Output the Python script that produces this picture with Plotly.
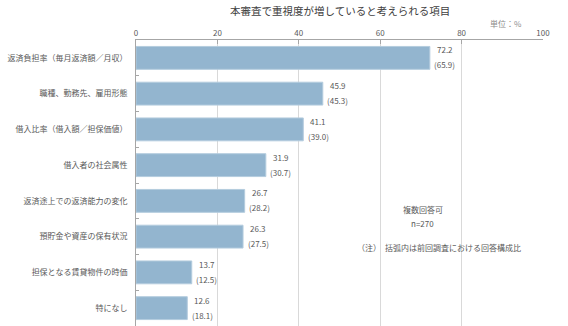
import plotly.graph_objects as go

categories = [
    "返済負担率（毎月返済額／月収）",
    "職種、勤務先、雇用形態",
    "借入比率（借入額／担保価値）",
    "借入者の社会属性",
    "返済途上での返済能力の変化",
    "預貯金や資産の保有状況",
    "担保となる賃貸物件の時価",
    "特になし",
]
current = [72.2, 45.9, 41.1, 31.9, 26.7, 26.3, 13.7, 12.6]
previous = [65.9, 45.3, 39.0, 30.7, 28.2, 27.5, 12.5, 18.1]
x_ticks = [0, 20, 40, 60, 80, 100]

FONT = "Noto Sans CJK JP"
TXT = "#595959"

fig = go.Figure()
fig.add_trace(go.Bar(
    y=categories, x=current, orientation="h",
    marker=dict(color="#93B5CF", line=dict(color="#B4CCDE", width=1)),
    hoverinfo="skip",
))

ann = []
for c, v, p in zip(categories, current, previous):
    ann.append(dict(x=v, y=c, xref="x", yref="y", text=f"{v:.1f}", showarrow=False,
                    xanchor="center", yanchor="middle", xshift=15, yshift=8,
                    font=dict(size=8, color=TXT, family=FONT)))
    ann.append(dict(x=v, y=c, xref="x", yref="y", text=f"({p:.1f})", showarrow=False,
                    xanchor="center", yanchor="middle", xshift=15, yshift=-7,
                    font=dict(size=8, color=TXT, family=FONT)))

ann += [
    dict(x=0.5, y=1, xref="paper", yref="paper", yshift=30, text="本審査で重視度が増していると考えられる項目",
         showarrow=False, xanchor="center", yanchor="middle",
         font=dict(size=10.5, color="#404040", family=FONT)),
    dict(x=91, y=1.0, xref="x", yref="paper", yshift=17, text="単位：%", showarrow=False,
         xanchor="center", yanchor="middle", font=dict(size=8, color="#8c8c8c", family=FONT)),
    dict(x=70.5, y=0.406, xref="x", yref="paper", text="複数回答可", showarrow=False,
         xanchor="center", yanchor="middle", font=dict(size=8, color=TXT, family=FONT)),
    dict(x=70.5, y=0.357, xref="x", yref="paper", text="n=270", showarrow=False,
         xanchor="center", yanchor="middle", font=dict(size=8, color=TXT, family=FONT)),
    dict(x=53.8, y=0.276, xref="x", yref="paper", text="（注）　括弧内は前回調査における回答構成比", showarrow=False,
         xanchor="left", yanchor="middle", font=dict(size=8, color=TXT, family=FONT)),
]

fig.update_layout(
    width=568, height=326,
    margin=dict(l=136, r=25, t=40, b=0),
    paper_bgcolor="white", plot_bgcolor="white",
    showlegend=False, bargap=0.36,
    font=dict(family=FONT, size=8, color=TXT),
    annotations=ann,
    xaxis=dict(range=[0, 100], side="top", tickvals=x_ticks, showgrid=True,
               gridcolor="#d9d9d9", gridwidth=1, showline=True, linecolor="#a6a6a6",
               linewidth=1, ticks="inside", ticklen=4, tickcolor="#a6a6a6",
               tickfont=dict(size=8, color=TXT), zeroline=False, fixedrange=True),
    yaxis=dict(autorange="reversed", showline=True, linecolor="#a6a6a6", linewidth=1,
               ticks="inside", ticklen=3, tickcolor="#a6a6a6", tickson="boundaries",
               tickfont=dict(size=8, color=TXT), ticklabelstandoff=6, showgrid=False,
               fixedrange=True),
)

fig.write_html("out.html")
